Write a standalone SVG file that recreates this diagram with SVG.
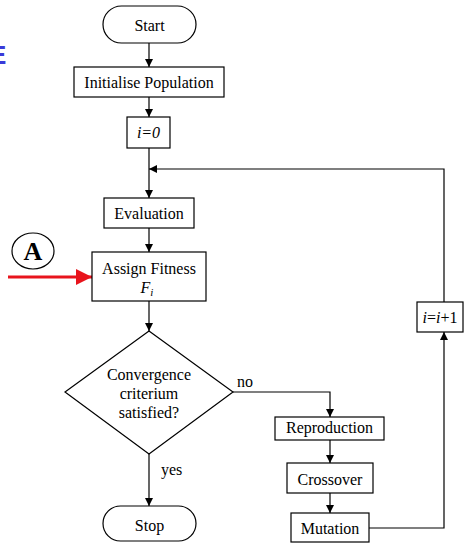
<svg xmlns="http://www.w3.org/2000/svg" width="465" height="543" viewBox="0 0 465 543">
<defs>
<marker id="ah" markerWidth="8" markerHeight="8" refX="8" refY="4" orient="auto" markerUnits="userSpaceOnUse">
<path d="M0,0 L8,4 L0,8 Z" fill="#000"/>
</marker>
<marker id="rh" markerWidth="16" markerHeight="16" refX="16" refY="8" orient="auto" markerUnits="userSpaceOnUse">
<path d="M0,0 L16,8 L0,16 Z" fill="#e8141c"/>
</marker>
<style>
.box{fill:#fff;stroke:#000;stroke-width:1.2}
.t{font-family:"Liberation Serif","Times New Roman",serif;font-size:16px;fill:#000;text-anchor:middle}
.l{font-family:"Liberation Serif","Times New Roman",serif;font-size:16px;fill:#000}
.c{fill:none;stroke:#000;stroke-width:1.2}
</style>
</defs>
<rect width="465" height="543" fill="#fff"/>
<text x="-11" y="64" font-family="Liberation Sans, Arial, sans-serif" font-weight="bold" font-size="26" fill="#3a3ad8">E</text>
<g id="connectors">
<line class="c" x1="149" y1="43" x2="149" y2="67" marker-end="url(#ah)"/>
<line class="c" x1="149" y1="97" x2="149" y2="117" marker-end="url(#ah)"/>
<line class="c" x1="149" y1="148" x2="149" y2="198" marker-end="url(#ah)"/>
<line class="c" x1="149" y1="228" x2="149" y2="252" marker-end="url(#ah)"/>
<line class="c" x1="149" y1="301" x2="149" y2="331" marker-end="url(#ah)"/>
<line class="c" x1="149" y1="454" x2="149" y2="506" marker-end="url(#ah)"/>
<polyline class="c" points="233,392 330,392 330,417" marker-end="url(#ah)"/>
<line class="c" x1="330" y1="440" x2="330" y2="463" marker-end="url(#ah)"/>
<line class="c" x1="330" y1="493" x2="330" y2="513" marker-end="url(#ah)"/>
<polyline class="c" points="369,528 444,528 444,332" marker-end="url(#ah)"/>
<polyline class="c" points="444,302 444,169 149,169" marker-end="url(#ah)"/>
<line x1="8" y1="277" x2="92" y2="277" stroke="#e8141c" stroke-width="3" marker-end="url(#rh)"/>
<text class="l" x="237" y="387">no</text>
<text class="l" x="161" y="475">yes</text>
</g>
<g id="start"><rect class="box" x="103" y="6" width="93" height="37" rx="18.5"/><text class="t" x="149.5" y="30.5">Start</text></g>
<g id="init"><rect class="box" x="74" y="67" width="150" height="30"/><text class="t" x="149" y="87.5">Initialise Population</text></g>
<g id="i0"><rect class="box" x="127" y="117" width="43" height="31"/><text class="t" x="148.5" y="138" font-style="italic">i=0</text></g>
<g id="evaluation"><rect class="box" x="104" y="198" width="90" height="30"/><text class="t" x="149" y="218.5">Evaluation</text></g>
<g id="fitness"><rect class="box" x="92" y="252" width="114" height="49"/><text class="t" x="149" y="273.5">Assign Fitness</text><text class="t" x="147" y="293" font-style="italic">F<tspan font-size="11" dy="3">i</tspan></text></g>
<g id="markerA"><ellipse cx="33" cy="251" rx="21" ry="18" fill="#fff" stroke="#000" stroke-width="1.2"/><text x="33" y="260" text-anchor="middle" font-family="Liberation Serif, serif" font-weight="bold" font-size="26">A</text></g>
<g id="decision"><polygon class="box" points="149,331 233,392 149,454 65,392"/><text class="t" x="149" y="380">Convergence</text><text class="t" x="149" y="398.5">criterium</text><text class="t" x="149" y="418">satisfied?</text></g>
<g id="stop"><rect class="box" x="103" y="506" width="93" height="35" rx="17.5"/><text class="t" x="149.5" y="530.5">Stop</text></g>
<g id="reproduction"><rect class="box" x="275" y="417" width="109" height="23"/><text class="t" x="329.5" y="433">Reproduction</text></g>
<g id="crossover"><rect class="box" x="287" y="463" width="86" height="30"/><text class="t" x="330" y="484.5">Crossover</text></g>
<g id="mutation"><rect class="box" x="291" y="513" width="78" height="29"/><text class="t" x="330" y="533.5">Mutation</text></g>
<g id="increment"><rect class="box" x="417" y="302" width="46" height="30"/><text class="t" x="440" y="322.5"><tspan font-style="italic">i</tspan>=<tspan font-style="italic">i</tspan>+1</text></g>
</svg>
